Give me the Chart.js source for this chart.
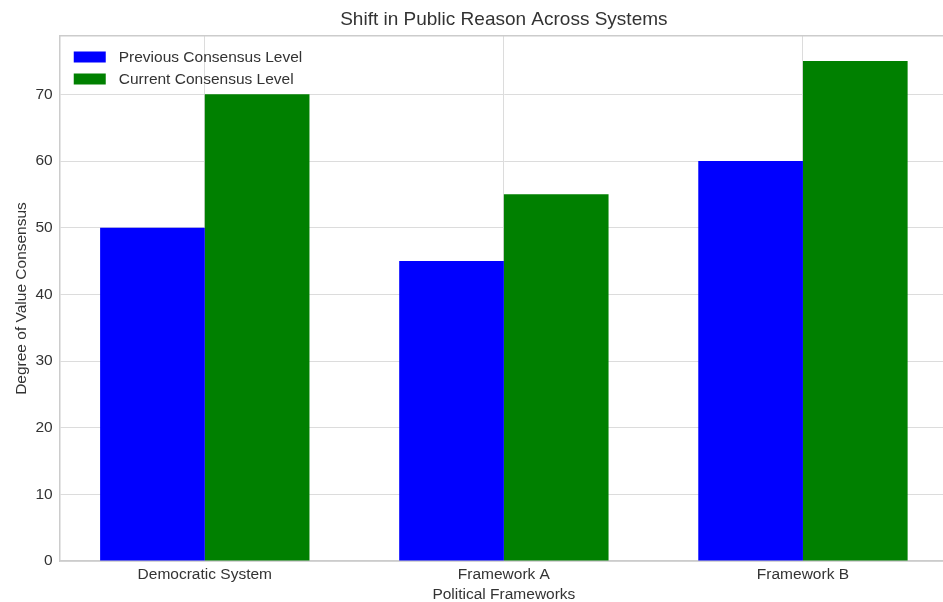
<!DOCTYPE html>
<html>
<head>
<meta charset="utf-8">
<script src="https://cdn.jsdelivr.net/npm/chart.js@4"></script>
<style>
  html, body { margin: 0; padding: 0; background: #fff; overflow: hidden; }
  #wrap { position: relative; width: 950px; height: 602px; }
</style>
</head>
<body>
<div id="wrap"><canvas id="myChart"></canvas></div>
<script>
// categories and series
const frameworks = ['Democratic System', 'Framework A', 'Framework B'];
const previousLevel = [50, 45, 60];
const currentLevel = [70, 55, 75];
const yTicks = [0, 10, 20, 30, 40, 50, 60, 70];

const gridColor = '#dcdcdc',
    edgeColor = '#cccccc',
    textColor = '#333333',
    fontFamily = "'Liberation Sans', Arial, sans-serif";

// legend drawn inside the plot, top-left, like the matplotlib one
const insideLegend = {
    id: 'insideLegend',
    afterDraw(chart) {
        const { ctx, chartArea } = chart;
        ctx.save();
        ctx.font = `15.5px ${fontFamily}`;
        ctx.textBaseline = 'middle';
        chart.data.datasets.forEach((ds, i) => {
            const y = chartArea.top + 21 + i * 22;
            ctx.fillStyle = ds.backgroundColor;
            ctx.fillRect(chartArea.left + 14, y - 5.5, 32, 11);
            ctx.fillStyle = textColor;
            ctx.fillText(ds.label, chartArea.left + 59, y + 1);
        });
        ctx.restore();
    }
};

const chartData = {
    datasets: [
        {
            label: 'Previous Consensus Level',
            data: frameworks.map((f, i) => ({ x: i, y: previousLevel[i] })),
            backgroundColor: '#0000ff',
            borderWidth: 0
        },
        {
            label: 'Current Consensus Level',
            data: frameworks.map((f, i) => ({ x: i, y: currentLevel[i] })),
            backgroundColor: '#008000',
            borderWidth: 0
        }
    ]
};

const options = {
    responsive: true,
    maintainAspectRatio: false,
    animation: false,
    categoryPercentage: 0.7,
    barPercentage: 1.0,
    layout: { padding: { left: 14, right: 2, top: 0, bottom: 0 } },
    plugins: {
        legend: { display: false },
        title: { display: false },
        tooltip: { enabled: false }
    },
    scales: {
        x: {
            type: 'linear',
            min: -0.485,
            max: 2.485,
            offset: false,
            afterBuildTicks: axis => { axis.ticks = frameworks.map((f, i) => ({ value: i })); },
            grid: { color: gridColor, offset: false, drawTicks: false },
            border: { color: edgeColor, width: 1.5 },
            ticks: {
                color: textColor,
                padding: 6,
                maxRotation: 0,
                autoSkip: false,
                callback: v => frameworks[v],
                font: { family: fontFamily, size: 15.5, lineHeight: 1 }
            },
            title: {
                display: true,
                text: 'Political Frameworks',
                color: textColor,
                padding: { top: -2, bottom: 0 },
                font: { family: fontFamily, size: 15.5, lineHeight: 1 }
            }
        },
        // top spine, its title is the chart title centred over the plot
        xTop: {
            type: 'linear',
            position: 'top',
            grid: { display: false, drawTicks: false },
            border: { color: edgeColor, width: 1.5 },
            ticks: { display: false },
            title: {
                display: true,
                text: 'Shift in Public Reason Across Systems',
                color: textColor,
                padding: { top: 10, bottom: 7 },
                font: { family: fontFamily, size: 19, lineHeight: 1 }
            }
        },
        y: {
            min: 0,
            max: 78.75,
            afterBuildTicks: axis => { axis.ticks = yTicks.map(v => ({ value: v })); },
            grid: { color: gridColor, drawTicks: false },
            border: { color: edgeColor, width: 1.5 },
            ticks: { color: textColor, padding: 7, font: { family: fontFamily, size: 15.5, lineHeight: 1 } },
            title: {
                display: true,
                text: 'Degree of Value Consensus',
                color: textColor,
                padding: { top: 0, bottom: -1 },
                font: { family: fontFamily, size: 15.5, lineHeight: 1 }
            }
        }
    }
};

const ctx = document.getElementById('myChart').getContext('2d');
const myChart = new Chart(ctx, {
    type: 'bar',
    data: chartData,
    options: options,
    plugins: [insideLegend]
});
</script>
</body>
</html>
